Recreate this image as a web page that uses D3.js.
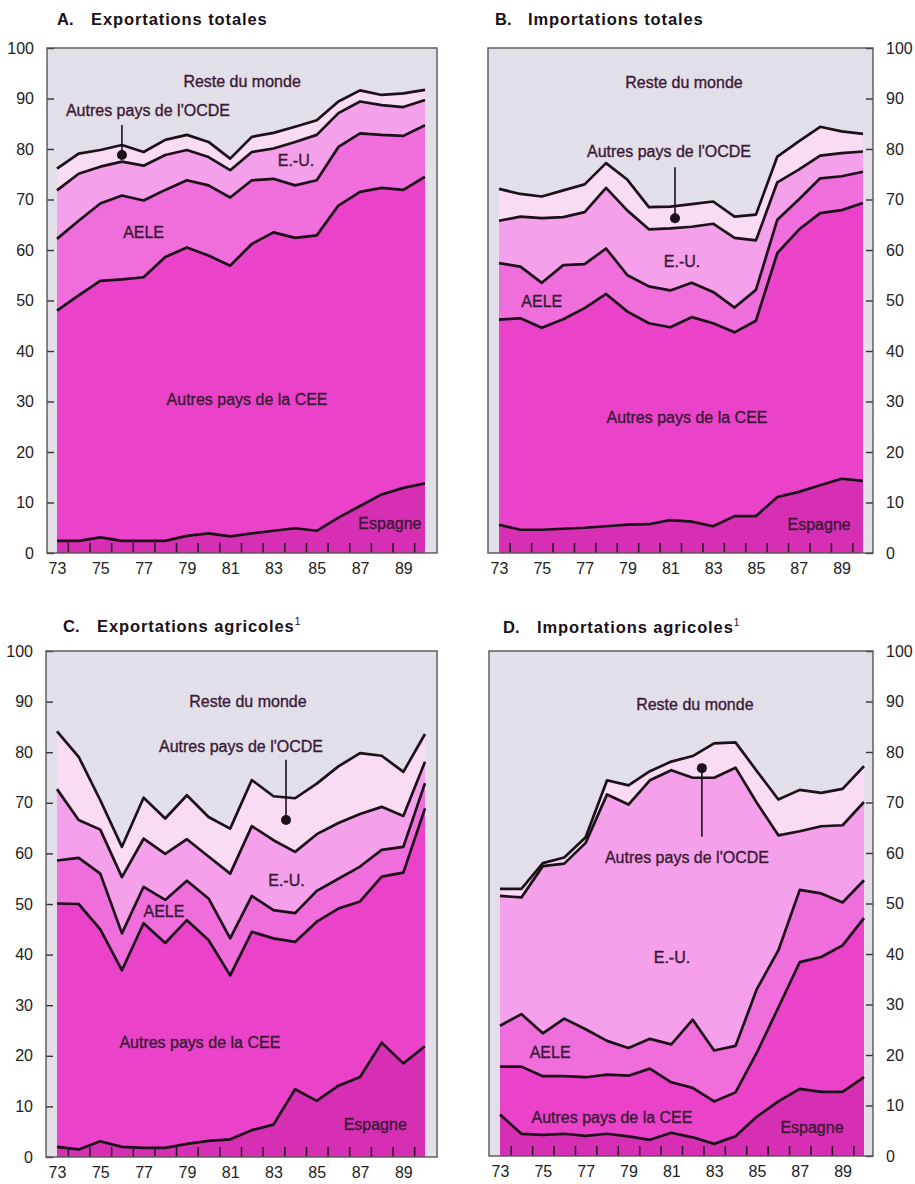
<!DOCTYPE html>
<html><head><meta charset="utf-8">
<script src="https://cdn.jsdelivr.net/npm/d3@7"></script>
<style>
body{margin:0;background:#fff}
svg{display:block}
text{font-family:"Liberation Sans",Arial,Helvetica,sans-serif}
</style>
</head><body>
<svg id="chart" width="915" height="1184"></svg>
<script>
// ---------- DATA ----------
const years = [73,74,75,76,77,78,79,80,81,82,83,84,85,86,87,88,89,90];
const xTickLabels = [73,75,77,79,81,83,85,87,89];
const xMinorTicks = [73.5,74.5,75.5,76.5,77.5,78.5,79.5,80.5,81.5,82.5,83.5,84.5,85.5,86.5,87.5,88.5,89.5];
const yTicks = [0,10,20,30,40,50,60,70,80,90,100];
const seriesKeys = ["espagne","cee","aele","eu","ocde","reste"];

// A. Exportations totales (shares, %)
const A_espagne = [2.4,2.4,3.1,2.4,2.4,2.4,3.4,3.9,3.3,3.9,4.4,4.9,4.4,7.0,9.3,11.6,12.9,13.8];
const A_cee     = [45.6,48.6,50.8,51.8,52.2,56.2,57.1,55.0,53.6,57.3,59.1,57.5,58.5,61.8,62.2,60.7,59.0,60.7];
const A_aele    = [14.2,14.8,15.3,16.6,15.2,13.3,13.3,13.9,13.5,12.6,10.6,10.4,10.9,11.6,11.6,10.5,10.7,10.2];
const A_eu      = [9.6,9.3,7.3,6.7,6.9,6.9,6.0,5.6,5.4,5.6,6.0,8.6,9.0,6.7,6.3,5.9,5.7,5.0];
const A_ocde    = [4.3,4.0,3.3,3.3,2.7,3.0,3.0,3.0,2.3,3.0,3.1,3.0,2.9,2.3,2.2,2.0,2.7,2.0];
const A_reste   = [23.9,20.9,20.2,19.2,20.6,18.2,17.2,18.6,21.9,17.6,16.8,15.6,14.3,10.6,8.4,9.3,9.0,8.3];

// B. Importations totales
const B_espagne = [5.6,4.6,4.6,4.8,5.0,5.3,5.6,5.7,6.5,6.2,5.3,7.3,7.3,11.1,12.1,13.4,14.7,14.3];
const B_cee     = [40.6,41.9,40.0,41.5,43.5,46.0,42.2,39.8,38.2,40.5,40.2,36.4,38.7,48.3,51.9,53.9,53.2,55.0];
const B_aele    = [11.2,10.2,8.9,10.7,8.7,9.0,7.2,7.3,7.3,6.8,6.2,4.9,6.1,6.6,6.0,6.9,6.7,6.2];
const B_eu      = [8.4,9.9,12.8,9.5,10.3,12.0,12.8,11.3,12.3,11.1,13.5,13.8,9.8,7.4,5.9,4.5,4.6,4.0];
const B_ocde    = [6.3,4.5,4.3,5.3,5.5,4.9,6.1,4.4,4.3,4.5,4.4,4.2,5.1,5.1,5.6,5.7,4.3,3.5];
const B_reste   = [27.9,28.9,29.4,28.2,27.0,22.8,26.1,31.5,31.4,30.9,30.4,33.4,33.0,21.5,18.5,15.6,16.5,17.0];

// C. Exportations agricoles
const C_espagne = [2.0,1.5,3.1,2.0,1.8,1.8,2.6,3.2,3.5,5.3,6.4,13.4,11.1,14.1,15.8,22.6,18.5,21.9];
const C_cee     = [48.1,48.5,41.9,34.9,44.4,40.5,44.2,39.7,32.4,39.2,36.8,29.1,35.4,35.0,34.7,32.8,37.7,47.0];
const C_aele    = [8.5,9.1,11.0,7.3,7.2,8.5,7.8,8.2,7.3,7.1,5.6,5.7,6.1,5.9,6.9,5.3,5.1,5.0];
const C_eu      = [14.1,7.5,8.7,11.1,9.5,9.1,8.2,8.3,12.8,13.8,13.8,12.1,11.2,11.0,10.4,8.5,6.1,4.2];
const C_ocde    = [11.4,12.5,5.8,6.0,8.1,7.0,8.7,7.8,8.9,9.1,8.7,10.6,10.0,11.2,12.0,10.1,8.7,5.5];
const C_reste   = [15.9,20.9,29.5,38.7,29.0,33.1,28.5,32.8,35.1,25.5,28.7,29.1,26.2,22.8,20.2,20.7,23.9,16.4];

// D. Importations agricoles
const D_espagne = [8.2,4.4,4.2,4.4,4.0,4.4,3.9,3.2,4.6,3.7,2.4,3.9,7.8,10.8,13.3,12.7,12.7,15.6];
const D_cee     = [9.5,13.3,11.6,11.4,11.6,11.7,12.0,14.1,10.0,9.8,8.4,8.7,12.7,18.6,25.1,26.7,29.0,31.5];
const D_aele    = [8.1,10.4,8.5,11.4,9.5,6.7,5.5,5.9,7.5,13.5,10.1,9.2,12.6,11.3,14.3,12.6,8.5,7.5];
const D_eu      = [25.7,23.1,33.1,30.7,36.9,48.8,48.2,51.2,54.3,47.9,54.0,55.1,36.8,22.8,11.6,13.3,15.3,15.5];
const D_ocde    = [1.4,1.7,0.6,1.2,1.1,2.8,3.8,1.8,1.7,4.3,6.8,5.0,6.3,7.1,8.2,6.6,7.2,7.1];
const D_reste   = [47.1,47.1,42.0,40.9,36.9,25.6,26.6,23.8,21.9,20.8,18.3,18.1,23.8,29.4,27.5,28.1,27.3,22.8];

// ---------- STYLE ----------
const colors = {espagne:"#d62fb4", cee:"#ea43c9", aele:"#ef6edb", eu:"#f5a0ea", ocde:"#f9dbf4", reste:"#e3dfe8"};
const labelColor = "#3a1a36";

const panels = [
  {letter:"A.", title:"Exportations totales", sup:false, side:"left",
   series:{espagne:A_espagne,cee:A_cee,aele:A_aele,eu:A_eu,ocde:A_ocde,reste:A_reste},
   box:{x0:47,x1:437}, xr:[57,425], yr:[553,48], titleX:[57,91], titleY:25,
   labels:[
     {t:"Reste du monde", x:81.55, y:92.3},
     {t:"Autres pays de l'OCDE", x:77.2, y:86.5},
     {t:"E.-U.", x:84.04, y:76.6},
     {t:"AELE", x:77.0, y:62.4},
     {t:"Autres pays de la CEE", x:81.78, y:29.3},
     {t:"Espagne", x:88.38, y:4.75}],
   dot:{x:76.0, y:78.8, ly:84.75}},
  {letter:"B.", title:"Importations totales", sup:false, side:"right",
   series:{espagne:B_espagne,cee:B_cee,aele:B_aele,eu:B_eu,ocde:B_ocde,reste:B_reste},
   box:{x0:488,x1:873}, xr:[499,863], yr:[553,48], titleX:[495,528], titleY:25,
   labels:[
     {t:"Reste du monde", x:81.64, y:92.1},
     {t:"Autres pays de l'OCDE", x:80.94, y:78.4},
     {t:"E.-U.", x:81.55, y:56.6},
     {t:"AELE", x:75.0, y:48.7},
     {t:"Autres pays de la CEE", x:81.78, y:25.7},
     {t:"Espagne", x:87.95, y:4.55}],
   dot:{x:81.22, y:66.3, ly:76.4}},
  {letter:"C.", title:"Exportations agricoles", sup:true, side:"left",
   series:{espagne:C_espagne,cee:C_cee,aele:C_aele,eu:C_eu,ocde:C_ocde,reste:C_reste},
   box:{x0:46,x1:437}, xr:[57,425], yr:[1157,651], titleX:[63,97], titleY:632,
   labels:[
     {t:"Reste du monde", x:81.82, y:88.9},
     {t:"Autres pays de l'OCDE", x:81.5, y:80.0},
     {t:"E.-U.", x:83.6, y:53.6},
     {t:"AELE", x:77.94, y:47.4},
     {t:"Autres pays de la CEE", x:79.6, y:21.5},
     {t:"Espagne", x:87.7, y:5.3}],
   dot:{x:83.58, y:66.6, ly:78.5}},
  {letter:"D.", title:"Importations agricoles", sup:true, side:"right",
   series:{espagne:D_espagne,cee:D_cee,aele:D_aele,eu:D_eu,ocde:D_ocde,reste:D_reste},
   box:{x0:489,x1:873}, xr:[500,864], yr:[1156,651], titleX:[503,537], titleY:633,
   labels:[
     {t:"Reste du monde", x:82.1, y:88.3},
     {t:"Autres pays de l'OCDE", x:81.73, y:58.0},
     {t:"E.-U.", x:81.03, y:38.2},
     {t:"AELE", x:75.34, y:19.4},
     {t:"Autres pays de la CEE", x:78.23, y:6.5},
     {t:"Espagne", x:87.57, y:4.55}],
   dot:{x:82.43, y:76.8, ly:63.2}}
];

const svg = d3.select("#chart");

panels.forEach(p => {
  const g = svg.append("g");
  const x = d3.scaleLinear().domain([years[0], years[years.length-1]]).range(p.xr);
  const y = d3.scaleLinear().domain([0,100]).range(p.yr);

  const rows = years.map((yr,i) => {
    const r = {year:yr};
    seriesKeys.forEach(k => r[k] = p.series[k][i]);
    return r;
  });
  const stacked = d3.stack().keys(seriesKeys)(rows);

  // box background
  g.append("rect")
    .attr("x", p.box.x0).attr("y", y(100))
    .attr("width", p.box.x1 - p.box.x0).attr("height", y(0) - y(100))
    .attr("fill", colors.reste);

  const area = d3.area().x(d => x(d.data.year)).y0(d => y(d[0])).y1(d => y(d[1]));
  g.selectAll("path.area").data(stacked).join("path")
    .attr("class","area")
    .attr("d", area)
    .attr("fill", d => colors[d.key]);

  const line = d3.line().x(d => x(d.data.year)).y(d => y(Math.min(d[1],100)));
  g.selectAll("path.line").data(stacked.filter(s => s.key !== "reste")).join("path")
    .attr("class","line")
    .attr("d", line)
    .attr("fill","none")
    .attr("stroke","#1c1019")
    .attr("stroke-width",2.7)
    .attr("stroke-linejoin","round");

  // y axis
  const yAxis = (p.side === "left" ? d3.axisLeft(y) : d3.axisRight(y))
    .tickValues(yTicks).tickSizeInner(-7).tickSizeOuter(0).tickPadding(13);
  const ya = g.append("g")
    .attr("transform", `translate(${p.side === "left" ? p.box.x0 : p.box.x1},0)`)
    .call(yAxis);
  ya.select(".domain").remove();
  ya.selectAll("line").attr("stroke","#333").attr("stroke-width",1.4);
  ya.selectAll("text").attr("font-size",16).attr("fill","#222");

  // x axis labels
  const xa = g.append("g").attr("transform", `translate(0,${y(0)})`)
    .call(d3.axisBottom(x).tickValues(xTickLabels).tickSize(0).tickPadding(10).tickFormat(d3.format("d")));
  xa.select(".domain").remove();
  xa.selectAll("text").attr("font-size",16).attr("fill","#222");

  // x minor ticks (inside)
  const xm = g.append("g").attr("transform", `translate(0,${y(0)})`)
    .call(d3.axisBottom(x).tickValues(xMinorTicks).tickSizeInner(-10).tickSizeOuter(0).tickFormat(""));
  xm.select(".domain").remove();
  xm.selectAll("line").attr("stroke","#2a1a28").attr("stroke-width",1.6);

  // frame
  g.append("rect")
    .attr("x", p.box.x0).attr("y", y(100))
    .attr("width", p.box.x1 - p.box.x0).attr("height", y(0) - y(100))
    .attr("fill","none").attr("stroke","#555").attr("stroke-width",1.4);

  // labels
  g.selectAll("text.lab").data(p.labels).join("text")
    .attr("class","lab")
    .attr("x", d => x(d.x)).attr("y", d => y(d.y))
    .attr("text-anchor","middle")
    .attr("font-size",16)
    .attr("fill",labelColor)
    .attr("stroke",labelColor).attr("stroke-width",0.35)
    .text(d => d.t);

  // leader + dot
  g.append("line")
    .attr("x1", x(p.dot.x)).attr("x2", x(p.dot.x))
    .attr("y1", y(p.dot.ly)).attr("y2", y(p.dot.y))
    .attr("stroke","#1c1019").attr("stroke-width",1.6);
  g.append("circle")
    .attr("cx", x(p.dot.x)).attr("cy", y(p.dot.y)).attr("r",5)
    .attr("fill","#1c1019");

  // title
  const t = g.append("text").attr("y", p.titleY).attr("font-size",16.5).attr("font-weight","bold").attr("fill","#1a1018");
  t.append("tspan").attr("x", p.titleX[0]).text(p.letter);
  t.append("tspan").attr("x", p.titleX[1]).attr("letter-spacing",0.9).text(p.title);
  if (p.sup) t.append("tspan").attr("font-size",10).attr("font-weight","normal").attr("dy",-7).text("1");
});
</script>
</body></html>
